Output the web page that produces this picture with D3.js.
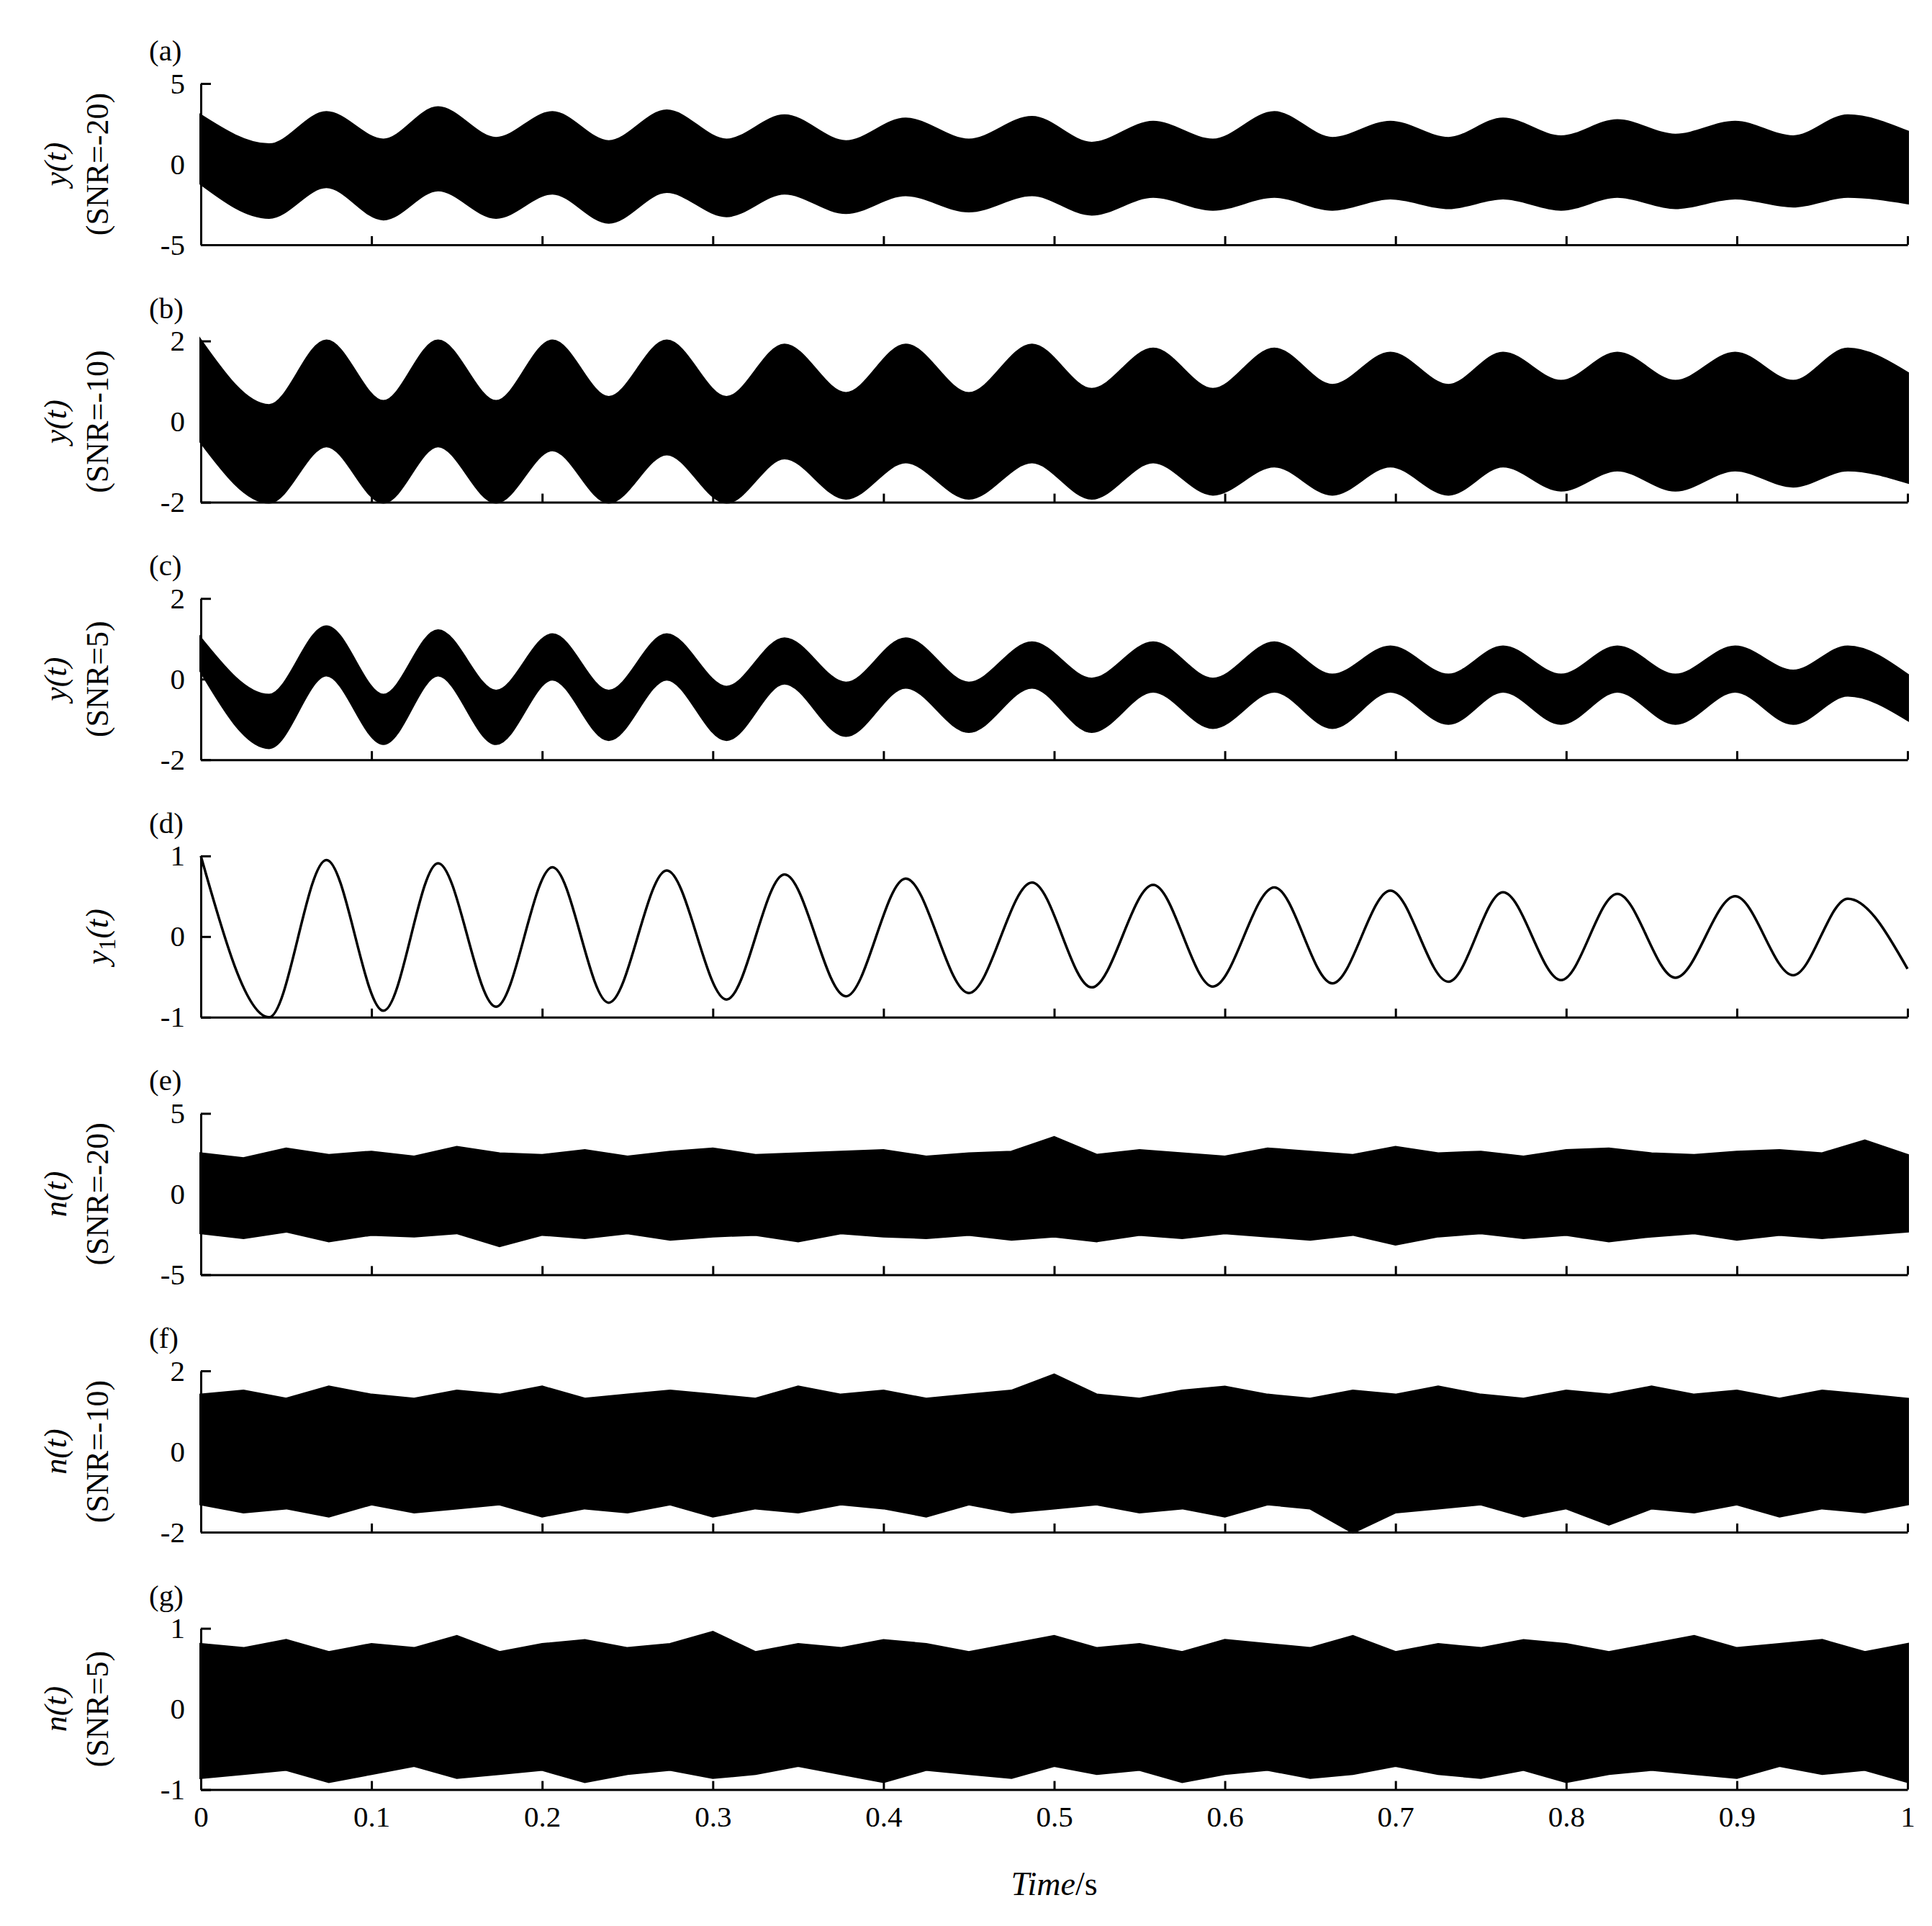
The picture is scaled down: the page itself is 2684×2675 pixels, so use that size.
<!DOCTYPE html>
<html><head><meta charset="utf-8">
<script src="https://cdn.jsdelivr.net/npm/d3@7"></script>
<style>body{margin:0;background:#fff}text{font-family:"Liberation Serif","Times New Roman",serif}</style>
</head><body><svg id="c" width="2684" height="2675"></svg>
<script>
// extrema times of y1(t)
const extT=[0,0.040,0.0736,0.107,0.139,0.173,0.206,0.239,0.273,0.308,0.342,0.378,0.413,0.450,0.487,0.522,0.558,0.593,0.629,0.663,0.697,0.731,0.763,0.797,0.830,0.864,0.899,0.933,0.965,1.0];
const y1=[1,-1,0.95,-0.92,0.91,-0.87,0.86,-0.82,0.82,-0.78,0.77,-0.74,0.72,-0.7,0.67,-0.63,0.64,-0.62,0.61,-0.58,0.57,-0.56,0.55,-0.54,0.53,-0.51,0.5,-0.48,0.47,-0.4];
const aHi=[3,1.2,3.2,1.5,3.5,1.6,3.2,1.4,3.3,1.5,3,1.4,2.8,1.5,2.9,1.3,2.6,1.5,3.2,1.6,2.6,1.6,2.8,1.7,2.7,1.8,2.6,1.7,3,2];
const aLo=[-1.2,-3.3,-1.4,-3.4,-1.6,-3.3,-1.8,-3.6,-1.7,-3.2,-1.8,-3,-1.9,-2.9,-1.9,-3.1,-2,-2.8,-2,-2.8,-2.1,-2.7,-2.1,-2.8,-2,-2.7,-2.1,-2.6,-2,-2.4];
const bHi=[2,0.4,2,0.5,2,0.5,2,0.6,2,0.6,1.9,0.7,1.9,0.7,1.9,0.8,1.8,0.8,1.8,0.9,1.7,0.9,1.7,1,1.7,1,1.7,1,1.8,1.2];
const bLo=[-0.5,-2,-0.6,-2,-0.6,-2,-0.7,-2,-0.8,-2,-0.9,-1.9,-1,-1.9,-1,-1.9,-1,-1.8,-1.1,-1.8,-1.1,-1.8,-1.1,-1.7,-1.2,-1.7,-1.2,-1.6,-1.2,-1.5];
const cHi=[1,-0.4,1.3,-0.4,1.2,-0.3,1.1,-0.3,1.1,-0.2,1,-0.1,1,-0.1,0.9,0,0.9,0,0.9,0.1,0.8,0.1,0.8,0.1,0.8,0.1,0.8,0.2,0.8,0.1];
const cLo=[0.2,-1.7,0.1,-1.6,0.1,-1.6,0,-1.5,0,-1.5,-0.1,-1.4,-0.2,-1.3,-0.2,-1.3,-0.3,-1.2,-0.3,-1.2,-0.3,-1.1,-0.3,-1.1,-0.3,-1.1,-0.3,-1.1,-0.4,-1];
const binT=d3.range(41).map(i=>i/40);
const eHi=[2.5,2.2,2.8,2.4,2.6,2.3,2.9,2.5,2.4,2.7,2.3,2.6,2.8,2.4,2.5,2.6,2.7,2.3,2.5,2.6,3.5,2.4,2.7,2.5,2.3,2.8,2.6,2.4,2.9,2.5,2.6,2.3,2.7,2.8,2.5,2.4,2.6,2.7,2.5,3.3,2.4];
const eLo=[-2.4,-2.7,-2.3,-2.9,-2.5,-2.6,-2.4,-3.2,-2.5,-2.7,-2.4,-2.8,-2.6,-2.5,-2.9,-2.4,-2.6,-2.7,-2.5,-2.8,-2.6,-2.9,-2.5,-2.7,-2.4,-2.6,-2.8,-2.5,-3.1,-2.6,-2.4,-2.7,-2.5,-2.9,-2.6,-2.4,-2.8,-2.5,-2.7,-2.5,-2.3];
const fHi=[1.4,1.5,1.3,1.6,1.4,1.3,1.5,1.4,1.6,1.3,1.4,1.5,1.4,1.3,1.6,1.4,1.5,1.3,1.4,1.5,1.9,1.4,1.3,1.5,1.6,1.4,1.3,1.5,1.4,1.6,1.4,1.3,1.5,1.4,1.6,1.4,1.5,1.3,1.5,1.4,1.3];
const fLo=[-1.3,-1.5,-1.4,-1.6,-1.3,-1.5,-1.4,-1.3,-1.6,-1.4,-1.5,-1.3,-1.6,-1.4,-1.5,-1.3,-1.4,-1.6,-1.3,-1.5,-1.4,-1.3,-1.5,-1.4,-1.6,-1.3,-1.4,-2,-1.5,-1.4,-1.3,-1.6,-1.4,-1.8,-1.4,-1.5,-1.3,-1.6,-1.4,-1.5,-1.3];
const gHi=[0.8,0.75,0.85,0.7,0.8,0.75,0.9,0.7,0.8,0.85,0.75,0.8,0.95,0.7,0.8,0.75,0.85,0.8,0.7,0.8,0.9,0.75,0.8,0.7,0.85,0.8,0.75,0.9,0.7,0.8,0.75,0.85,0.8,0.7,0.8,0.9,0.75,0.8,0.85,0.7,0.8];
const gLo=[-0.85,-0.8,-0.75,-0.9,-0.8,-0.7,-0.85,-0.8,-0.75,-0.9,-0.8,-0.75,-0.85,-0.8,-0.7,-0.8,-0.9,-0.75,-0.8,-0.85,-0.7,-0.8,-0.75,-0.9,-0.8,-0.75,-0.85,-0.8,-0.7,-0.8,-0.85,-0.75,-0.9,-0.8,-0.75,-0.8,-0.85,-0.7,-0.8,-0.75,-0.9];
const xTicks=[0,0.1,0.2,0.3,0.4,0.5,0.6,0.7,0.8,0.9,1];

const panels=[
 {tag:"(a)",v:"y",snr:"(SNR=-20)",lim:5,t:extT,hi:aHi,lo:aLo,smooth:true},
 {tag:"(b)",v:"y",snr:"(SNR=-10)",lim:2,t:extT,hi:bHi,lo:bLo,smooth:true},
 {tag:"(c)",v:"y",snr:"(SNR=5)",lim:2,t:extT,hi:cHi,lo:cLo,smooth:true},
 {tag:"(d)",v:"y1",snr:null,lim:1,t:extT,line:y1},
 {tag:"(e)",v:"n",snr:"(SNR=-20)",lim:5,t:binT,hi:eHi,lo:eLo},
 {tag:"(f)",v:"n",snr:"(SNR=-10)",lim:2,t:binT,hi:fHi,lo:fLo},
 {tag:"(g)",v:"n",snr:"(SNR=5)",lim:1,t:binT,hi:gHi,lo:gLo}
];
const svg=d3.select("#c");
const L=279,R=2650,H=224,top0=116,step=357.6;
const x=d3.scaleLinear().domain([0,1]).range([L,R]);
const fmt=v=>String(v).replace("\u2212","-");
panels.forEach((p,i)=>{
 const t0=top0+i*step;
 const y=d3.scaleLinear().domain([-p.lim,p.lim]).range([t0+H,t0]);
 const g=svg.append("g");
 if(p.line){
  g.append("path").attr("d",d3.line().x((d,k)=>x(p.t[k])).y(d=>y(d)).curve(d3.curveMonotoneX)(p.line))
   .attr("fill","none").attr("stroke","#000").attr("stroke-width",3.5);
 } else {
  g.append("path").attr("d",d3.area().x((d,k)=>x(p.t[k])).y0((d,k)=>y(p.lo[k])).y1(d=>y(d))
    .curve(p.smooth?d3.curveMonotoneX:d3.curveLinear)(p.hi))
   .attr("fill","#000").attr("stroke","#000").attr("stroke-width",4);
 }
 const ya=g.append("g").attr("transform",`translate(${L},0)`)
  .call(d3.axisLeft(y).tickValues([-p.lim,0,p.lim]).tickSizeInner(-14).tickSizeOuter(0).tickPadding(22).tickFormat(fmt));
 const xa=g.append("g").attr("transform",`translate(0,${t0+H})`)
  .call(d3.axisBottom(x).tickValues(xTicks).tickSizeInner(-12).tickSizeOuter(0).tickPadding(22).tickFormat(i===6?fmt:()=>""));
 [ya,xa].forEach(a=>{a.selectAll("path,line").attr("stroke","#000").attr("stroke-width",3);
   a.selectAll("text").attr("font-size",41).attr("fill","#000").attr("font-family","Liberation Serif");});
 g.append("text").attr("x",207).attr("y",t0-32).attr("font-size",41).text(p.tag);
 const cy=t0+H/2;
 if(p.snr){
  const lab=g.append("text").attr("transform",`translate(92,${cy}) rotate(-90)`).attr("text-anchor","middle").attr("font-size",44);
  lab.append("tspan").attr("font-style","italic").text(p.v+"(t)");
  g.append("text").attr("transform",`translate(150,${cy}) rotate(-90)`).attr("text-anchor","middle").attr("font-size",44).text(p.snr);
 } else {
  const lab=g.append("text").attr("transform",`translate(150,${cy}) rotate(-90)`).attr("text-anchor","middle").attr("font-size",44).attr("font-style","italic");
  lab.append("tspan").text("y");
  lab.append("tspan").attr("font-size",33).attr("dy",10).attr("font-style","normal").text("1");
  lab.append("tspan").attr("dy",-10).text("(t)");
 }
});
const xl=svg.append("text").attr("x",(L+R)/2).attr("y",2632).attr("text-anchor","middle").attr("font-size",46);
xl.append("tspan").attr("font-style","italic").text("Time");
xl.append("tspan").text("/s");
</script></body></html>
